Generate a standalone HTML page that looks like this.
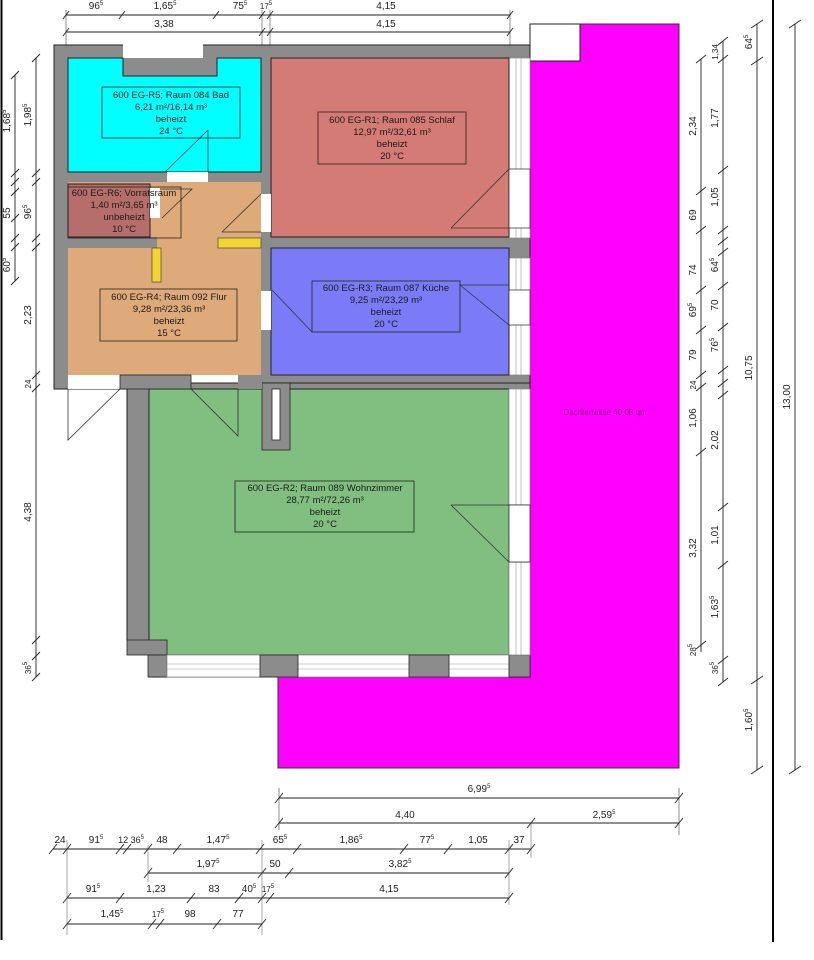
<!DOCTYPE html>
<html><head><meta charset="utf-8"><style>
html,body{margin:0;padding:0;background:#fff;}
svg{display:block;}
text{font-family:"Liberation Sans",sans-serif;}
.rl{font-size:9.5px;text-anchor:middle;}
.d{font-size:10px;text-anchor:middle;fill:#222;}
.s{font-size:6px;}
</style></head><body>
<svg width="814" height="960" viewBox="0 0 814 960" xmlns="http://www.w3.org/2000/svg">
<line x1="1.5" y1="0" x2="1.5" y2="940" stroke="#000" stroke-width="2"/>
<line x1="773" y1="0" x2="773" y2="942" stroke="#000" stroke-width="2"/>

<path d="M530 24 H679 V768 H278 V677 H530 Z" fill="#ff00ff" stroke="#333" stroke-width="1"/>
<rect x="530" y="24" width="50" height="37" fill="#fff" stroke="#222" stroke-width="1"/>
<text x="605" y="415" font-size="8" fill="#8a1580" text-anchor="middle">Dachterrasse 40,08 qm</text>

<rect x="54" y="45" width="476" height="344" fill="#8c8c8c" stroke="#222" stroke-width="1"/>
<rect x="123" y="43" width="80" height="15" fill="#fff"/>
<rect x="509" y="58" width="21" height="180" fill="#fff" stroke="#888" stroke-width="0.7"/>
<rect x="509" y="258" width="21" height="117" fill="#fff" stroke="#888" stroke-width="0.7"/>
<line x1="516" y1="58" x2="516" y2="238" stroke="#999" stroke-width="0.6"/>
<line x1="521" y1="58" x2="521" y2="238" stroke="#999" stroke-width="0.6"/>
<line x1="516" y1="258" x2="516" y2="375" stroke="#999" stroke-width="0.6"/>
<line x1="521" y1="258" x2="521" y2="375" stroke="#999" stroke-width="0.6"/>

<path d="M68 58 H123 V76 H217 V58 H261 V172 H68 Z" fill="#00ffff" stroke="#222" stroke-width="1"/>
<rect x="271" y="58" width="238" height="179" fill="#d47b76" stroke="#222" stroke-width="1"/>
<path d="M68 182 H261 V375 H68 V248 H157 V237 H150 V184 H68 Z" fill="#dfaa79"/>
<rect x="57" y="183" width="3" height="56" fill="#8c8c8c"/>
<rect x="68" y="184" width="82" height="53" fill="#b66e6a" stroke="#222" stroke-width="1"/>
<rect x="271" y="248" width="238" height="127" fill="#7b7bf7" stroke="#222" stroke-width="1"/>
<rect x="167" y="172" width="41" height="10" fill="#fff"/>
<rect x="150" y="188" width="10" height="30" fill="#fff"/>
<rect x="261" y="194" width="10" height="38" fill="#fff"/>
<rect x="261" y="291" width="10" height="39" fill="#fff"/>
<rect x="68" y="375" width="52" height="14" fill="#fff"/>
<rect x="191" y="375" width="47" height="14" fill="#fff"/>
<rect x="218" y="238" width="43" height="10" fill="#f2d530" stroke="#333" stroke-width="0.6"/>
<rect x="152" y="248" width="9" height="34" fill="#f2d530" stroke="#333" stroke-width="0.6"/>

<rect x="127" y="383" width="403" height="294" fill="#8c8c8c" stroke="#222" stroke-width="1"/>
<rect x="149" y="389" width="360" height="266" fill="#80bf80" stroke="#222" stroke-width="1"/>
<rect x="125" y="640" width="23" height="39" fill="#fff"/>
<rect x="127" y="640" width="40" height="15" fill="#8c8c8c" stroke="#222" stroke-width="0.8"/>
<rect x="148" y="655" width="19" height="22" fill="#8c8c8c" stroke="#222" stroke-width="0.8"/>
<rect x="167" y="655" width="342" height="22" fill="#fff" stroke="#888" stroke-width="0.7"/>
<line x1="167" y1="664" x2="509" y2="664" stroke="#999" stroke-width="0.6"/>
<line x1="167" y1="669" x2="509" y2="669" stroke="#999" stroke-width="0.6"/>
<rect x="260" y="655" width="38" height="22" fill="#8c8c8c" stroke="#222" stroke-width="0.8"/>
<rect x="409" y="655" width="40" height="22" fill="#8c8c8c" stroke="#222" stroke-width="0.8"/>
<rect x="509" y="655" width="21" height="22" fill="#8c8c8c" stroke="#222" stroke-width="0.8"/>
<rect x="509" y="389" width="21" height="266" fill="#fff" stroke="#888" stroke-width="0.7"/>
<line x1="516" y1="389" x2="516" y2="655" stroke="#999" stroke-width="0.6"/>
<line x1="521" y1="389" x2="521" y2="655" stroke="#999" stroke-width="0.6"/>
<rect x="262" y="383" width="28" height="67" fill="#8c8c8c" stroke="#222" stroke-width="0.8"/>
<rect x="272" y="389" width="8" height="51" fill="#fff" stroke="#222" stroke-width="0.8"/>
<rect x="120" y="375" width="71" height="14" fill="#8c8c8c" stroke="#222" stroke-width="0.8"/>
<rect x="238" y="375" width="24" height="14" fill="#8c8c8c"/>

<g fill="none" stroke="#333" stroke-width="0.8">
<path d="M208 130 V172 M208 130 L165 172"/>
<path d="M222 232 H261 M222 232 L261 194"/>
<path d="M451 228 H509 M451 228 L509 169"/>
<path d="M162 218 L192 189 H160"/>
<path d="M272 290 L312 332"/>
<path d="M460 285 H509 M460 285 L509 325"/>
<path d="M120 389 L68 440 V389"/>
<path d="M191 389 L238 436 V389"/>
<path d="M451 505 H530 M451 505 L509 562 H530"/>
</g>
<rect x="509" y="169" width="21" height="59" fill="#fff" stroke="#222" stroke-width="0.7"/>
<rect x="509" y="290" width="21" height="35" fill="#fff" stroke="#222" stroke-width="0.7"/>
<rect x="509" y="505" width="21" height="57" fill="#fff" stroke="#222" stroke-width="0.7"/>

<g fill="none" stroke="#222" stroke-width="0.8">
<rect x="102" y="87" width="138" height="51"/>
<rect x="318" y="112" width="148" height="52"/>
<rect x="68" y="187" width="113" height="51"/>
<rect x="100" y="289" width="137" height="52"/>
<rect x="312" y="281" width="148" height="51"/>
<rect x="235" y="481" width="179" height="51"/>
</g>
<g class="rl" fill="#1a1a1a">
<text x="171" y="98">600 EG-R5; Raum 084 Bad</text><text x="171" y="110">6,21 m²/16,14 m³</text><text x="171" y="122">beheizt</text><text x="171" y="134">24 °C</text>
<text x="392" y="123">600 EG-R1; Raum 085 Schlaf</text><text x="392" y="135">12,97 m²/32,61 m³</text><text x="392" y="147">beheizt</text><text x="392" y="159">20 °C</text>
<text x="124" y="196">600 EG-R6; Vorratsraum</text><text x="124" y="208">1,40 m²/3,65 m³</text><text x="124" y="220">unbeheizt</text><text x="124" y="232">10 °C</text>
<text x="169" y="300">600 EG-R4; Raum 092 Flur</text><text x="169" y="312">9,28 m²/23,36 m³</text><text x="169" y="324">beheizt</text><text x="169" y="336">15 °C</text>
<text x="386" y="291">600 EG-R3; Raum 087 Küche</text><text x="386" y="303">9,25 m²/23,29 m³</text><text x="386" y="315">beheizt</text><text x="386" y="327">20 °C</text>
<text x="325" y="491">600 EG-R2; Raum 089 Wohnzimmer</text><text x="325" y="503">28,77 m²/72,26 m³</text><text x="325" y="515">beheizt</text><text x="325" y="527">20 °C</text>
</g>

<g stroke="#222" stroke-width="0.9" fill="none">
<line x1="66" y1="15" x2="510" y2="15"/><line x1="66" y1="32" x2="510" y2="32"/>
<path d="M63 19 l6 -8 M119 19 l6 -8 M213 19 l6 -8 M259 19 l6 -8 M267 19 l6 -8 M507 19 l6 -8"/>
<path d="M63 36 l6 -8 M259 36 l6 -8 M267 36 l6 -8 M507 36 l6 -8"/>
<line x1="66" y1="10" x2="66" y2="45" stroke-width="0.5"/><line x1="262" y1="10" x2="262" y2="45" stroke-width="0.5"/><line x1="270" y1="10" x2="270" y2="45" stroke-width="0.5"/><line x1="510" y1="10" x2="510" y2="45" stroke-width="0.5"/>
<line x1="36" y1="58" x2="36" y2="677"/>
<line x1="15" y1="75" x2="15" y2="281"/>
<path d="M32 62 l8 -8 M32 177 l8 -8 M32 186 l8 -8 M32 242 l8 -8 M32 251 l8 -8 M32 379 l8 -8 M32 392 l8 -8 M32 644 l8 -8 M32 660 l8 -8 M32 681 l8 -8"/>
<path d="M11 79 l8 -8 M11 177 l8 -8 M11 186 l8 -8 M11 196 l8 -8 M11 222 l8 -8 M11 242 l8 -8 M11 251 l8 -8 M11 285 l8 -8"/>
<line x1="701" y1="59" x2="701" y2="652"/>
<line x1="723" y1="41" x2="723" y2="682"/>
<line x1="757" y1="24" x2="757" y2="770"/>
<line x1="795" y1="24" x2="795" y2="770"/>
<path d="M696 63 l10 -8 M696 195 l10 -8 M696 234 l10 -8 M696 294 l10 -8 M696 334 l10 -8 M696 379 l10 -8 M696 391 l10 -8 M696 456 l10 -8 M696 649 l10 -8"/>
<path d="M718 45 l10 -8 M718 63 l10 -8 M718 174 l10 -8 M718 234 l10 -8 M718 245 l10 -8 M718 256 l10 -8 M718 290 l10 -8 M718 331 l10 -8 M718 374 l10 -8 M718 387 l10 -8 M718 399 l10 -8 M718 511 l10 -8 M718 569 l10 -8 M718 664 l10 -8 M718 686 l10 -8"/>
<path d="M751 28 l12 -8 M751 65 l12 -8 M751 684 l12 -8 M751 774 l12 -8"/>
<path d="M789 28 l12 -8 M789 774 l12 -8"/>
<line x1="279" y1="798" x2="679" y2="798"/><line x1="279" y1="823" x2="679" y2="823"/>
<path d="M275 803 l8 -10 M675 803 l8 -10 M275 828 l8 -10 M527 828 l8 -10 M675 828 l8 -10"/>
<line x1="279" y1="788" x2="279" y2="830" stroke-width="0.5"/><line x1="679" y1="788" x2="679" y2="835" stroke-width="0.5"/>
<line x1="53" y1="849" x2="531" y2="849"/>
<path d="M49 854 l8 -10 M63 854 l8 -10 M116 854 l8 -10 M123 854 l8 -10 M144 854 l8 -10 M173 854 l8 -10 M256 854 l8 -10 M293 854 l8 -10 M400 854 l8 -10 M444 854 l8 -10 M505 854 l8 -10 M527 854 l8 -10"/>
<line x1="148" y1="873" x2="509" y2="873"/>
<path d="M144 878 l8 -10 M258 878 l8 -10 M285 878 l8 -10 M505 878 l8 -10"/>
<line x1="67" y1="898" x2="509" y2="898"/>
<path d="M63 903 l8 -10 M116 903 l8 -10 M187 903 l8 -10 M235 903 l8 -10 M258 903 l8 -10 M266 903 l8 -10 M505 903 l8 -10"/>
<line x1="67" y1="924" x2="262" y2="924"/>
<path d="M63 929 l8 -10 M148 929 l8 -10 M156 929 l8 -10 M213 929 l8 -10 M258 929 l8 -10"/>
</g>
<g stroke="#555" stroke-width="0.5">
<line x1="67" y1="840" x2="67" y2="935"/><line x1="262" y1="840" x2="262" y2="935"/><line x1="509" y1="840" x2="509" y2="905"/><line x1="531" y1="823" x2="531" y2="858"/><line x1="148" y1="845" x2="148" y2="882"/>
</g>
<g class="d">
<text x="96" y="9">96<tspan class="s" dy="-4">5</tspan></text>
<text x="165" y="9">1,65<tspan class="s" dy="-4">5</tspan></text>
<text x="240" y="9">75<tspan class="s" dy="-4">5</tspan></text>
<text x="266" y="9" font-size="8">17<tspan class="s" dy="-4">5</tspan></text>
<text x="386" y="9">4,15</text>
<text x="164" y="27">3,38</text>
<text x="386" y="27">4,15</text>
<text transform="translate(31,115) rotate(-90)">1,98<tspan class="s" dy="-4">5</tspan></text>
<text transform="translate(10,121) rotate(-90)">1,68<tspan class="s" dy="-4">5</tspan></text>
<text transform="translate(10,213) rotate(-90)">55</text>
<text transform="translate(10,265) rotate(-90)">60<tspan class="s" dy="-4">5</tspan></text>
<text transform="translate(31,212) rotate(-90)">96<tspan class="s" dy="-4">5</tspan></text>
<text transform="translate(31,315) rotate(-90)">2,23</text>
<text transform="translate(31,384) rotate(-90)" font-size="8">24</text>
<text transform="translate(31,512) rotate(-90)">4,38</text>
<text transform="translate(31,668) rotate(-90)" font-size="8">36<tspan class="s" dy="-4">5</tspan></text>
<text transform="translate(696,126) rotate(-90)">2,34</text>
<text transform="translate(696,215) rotate(-90)">69</text>
<text transform="translate(696,270) rotate(-90)">74</text>
<text transform="translate(696,310) rotate(-90)">69<tspan class="s" dy="-4">5</tspan></text>
<text transform="translate(696,355) rotate(-90)">79</text>
<text transform="translate(696,385) rotate(-90)" font-size="8">24</text>
<text transform="translate(696,418) rotate(-90)">1,06</text>
<text transform="translate(696,548) rotate(-90)">3,32</text>
<text transform="translate(696,650) rotate(-90)" font-size="8">28<tspan class="s" dy="-4">5</tspan></text>
<text transform="translate(718,52) rotate(-90)" font-size="8">1,34</text>
<text transform="translate(718,118) rotate(-90)">1,77</text>
<text transform="translate(718,197) rotate(-90)">1,05</text>
<text transform="translate(718,265) rotate(-90)">64<tspan class="s" dy="-4">5</tspan></text>
<text transform="translate(718,305) rotate(-90)">70</text>
<text transform="translate(718,345) rotate(-90)">76<tspan class="s" dy="-4">5</tspan></text>
<text transform="translate(718,440) rotate(-90)">2,02</text>
<text transform="translate(718,535) rotate(-90)">1,01</text>
<text transform="translate(718,607) rotate(-90)">1,63<tspan class="s" dy="-4">5</tspan></text>
<text transform="translate(718,668) rotate(-90)" font-size="8">36<tspan class="s" dy="-4">5</tspan></text>
<text transform="translate(752,42) rotate(-90)">64<tspan class="s" dy="-4">5</tspan></text>
<text transform="translate(752,368) rotate(-90)">10,75</text>
<text transform="translate(752,720) rotate(-90)">1,60<tspan class="s" dy="-4">5</tspan></text>
<text transform="translate(790,397) rotate(-90)">13,00</text>
<text x="479" y="792">6,99<tspan class="s" dy="-4">5</tspan></text>
<text x="405" y="818">4,40</text>
<text x="604" y="818">2,59<tspan class="s" dy="-4">5</tspan></text>
<text x="60" y="843">24</text>
<text x="96" y="843">91<tspan class="s" dy="-4">5</tspan></text>
<text x="131" y="843" font-size="9">12 36<tspan class="s" dy="-4">5</tspan></text>
<text x="162" y="843">48</text>
<text x="218" y="843">1,47<tspan class="s" dy="-4">5</tspan></text>
<text x="280" y="843">65<tspan class="s" dy="-4">5</tspan></text>
<text x="351" y="843">1,86<tspan class="s" dy="-4">5</tspan></text>
<text x="427" y="843">77<tspan class="s" dy="-4">5</tspan></text>
<text x="478" y="843">1,05</text>
<text x="519" y="843">37</text>
<text x="208" y="867">1,97<tspan class="s" dy="-4">5</tspan></text>
<text x="275" y="867">50</text>
<text x="400" y="867">3,82<tspan class="s" dy="-4">5</tspan></text>
<text x="93" y="892">91<tspan class="s" dy="-4">5</tspan></text>
<text x="156" y="892">1,23</text>
<text x="214" y="892">83</text>
<text x="249" y="892">40<tspan class="s" dy="-4">5</tspan></text>
<text x="268" y="892" font-size="8">17<tspan class="s" dy="-4">5</tspan></text>
<text x="389" y="892">4,15</text>
<text x="112" y="917">1,45<tspan class="s" dy="-4">5</tspan></text>
<text x="158" y="917" font-size="8">17<tspan class="s" dy="-4">5</tspan></text>
<text x="190" y="917">98</text>
<text x="238" y="917">77</text>
</g>
</svg>
</body></html>
